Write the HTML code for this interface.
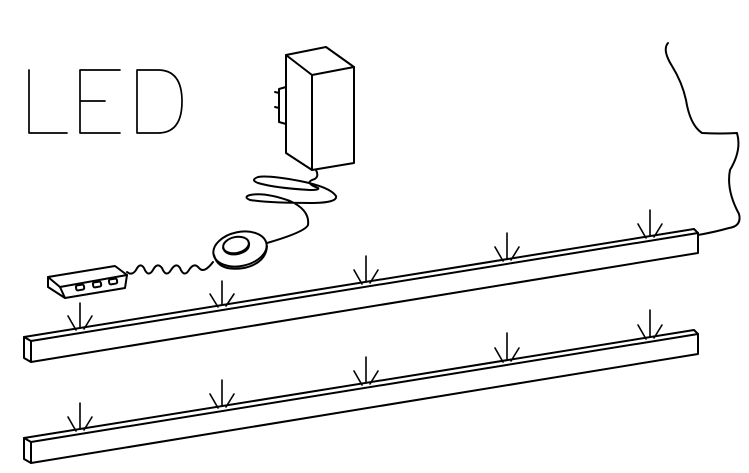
<!DOCTYPE html>
<html><head><style>html,body{margin:0;padding:0;background:#fff}svg{display:block}</style></head>
<body>
<svg width="749" height="473" viewBox="0 0 749 473" xmlns="http://www.w3.org/2000/svg" fill="none" stroke="#000" stroke-width="2" stroke-linejoin="round" stroke-linecap="round">
<!-- LED letters -->
<g stroke-width="1.7">
<path d="M29 70 V133 H67"/>
<path d="M120 70 H80 V133 H120 M80 101 H105"/>
<path d="M137 70 V133 H158 Q182 133 182 101.5 Q182 70 158 70 Z"/>
</g>
<!-- transformer box -->
<path d="M286 55 L326 47 L354 67 L312 75 Z"/>
<path d="M312 75 L312 170 L354 163 L354 67"/>
<path d="M286 55 L286 153 L312 170"/>
<path d="M286 87 L279 89 L279 122 L286 124"/>
<path d="M279 93 L275 92 M279 108 L275 107"/>
<!-- coiled cable -->
<path d="M316 170 Q320 178 312 180 Q305 183 318 188 Q320 190 310 190 Q275 188 258 183 Q250 180 258 177 Q268 175 300 181 Q330 187 336 196 Q338 203 310 203 Q270 203 250 200 Q243 197 250 195 Q265 192 290 201 Q310 210 308 225 Q305 232 267 243"/>
<!-- puck -->
<ellipse cx="240" cy="249" rx="27" ry="17" transform="rotate(-12 240 249)"/>
<path d="M214 255 Q218 272 244 268 Q266 263 267 246"/>
<ellipse cx="236" cy="245" rx="13" ry="8" transform="rotate(-12 236 245)"/>
<path d="M223 248 Q226 256 238 254 Q250 251 249 243"/>
<!-- wiggly cable -->
<path d="M127 272 Q132 276 136 270 Q140 262 144 268 Q148 278 153 270 Q157 262 162 268 Q166 278 171 270 Q176 262 180 268 Q184 278 189 270 Q194 262 199 268 Q204 274 213 262"/>
<!-- junction box -->
<path d="M48 277 L115 266 L127 275 L60 287 Z"/>
<path d="M48 277 L48 287 L65 298 L125 288 L127 275"/>
<path d="M60 287 L65 298"/>
<rect x="76" y="285" width="8" height="5" rx="1.5" transform="rotate(-9 80 287)"/>
<rect x="93" y="282" width="8" height="5" rx="1.5" transform="rotate(-9 97 284)"/>
<rect x="109" y="279" width="8" height="5" rx="1.5" transform="rotate(-9 113 281)"/>
<!-- right cable -->
<path d="M668 43 Q662 50 672 66 Q682 82 686 100 Q690 125 702 133 Q720 134 737 133 Q742 150 730 170 Q726 190 739 214 Q742 226 729 228 Q715 232 698 235"/>
<!-- bar 1 -->
<path d="M24 337 L694 229 L698 233 L31 341 Z"/>
<path d="M31 341 L31 362 L698 253 L698 233"/>
<path d="M24 337 L24 358 L31 362"/>
<!-- bar 2 -->
<path d="M24 438 L694 330 L698 334 L31 442 Z"/>
<path d="M31 442 L31 463 L698 354 L698 334"/>
<path d="M24 438 L24 459 L31 463"/>
<!-- arrows bar1 -->
<g stroke-width="1.6">
<path d="M80 303 V328 M68 316 L76 330 M92 316 L84 329"/>
<path d="M222 281 V305 M210 294 L218 307 M234 294 L226 306"/>
<path d="M366 256 V282 M354 270 L362 284 M378 270 L370 283"/>
<path d="M507 233 V259 M495 247 L503 261 M519 247 L511 260"/>
<path d="M650 210 V235 M638 224 L646 238 M662 224 L654 237"/>
<!-- arrows bar2 -->
<path d="M80 403 V429 M68 417 L76 431 M92 417 L84 430"/>
<path d="M222 380 V406 M210 394 L218 408 M234 394 L226 407"/>
<path d="M366 357 V383 M354 371 L362 385 M378 371 L370 384"/>
<path d="M507 333 V360 M495 348 L503 362 M519 348 L511 361"/>
<path d="M650 310 V337 M638 325 L646 339 M662 325 L654 338"/>
</g>
</svg>
</body></html>
